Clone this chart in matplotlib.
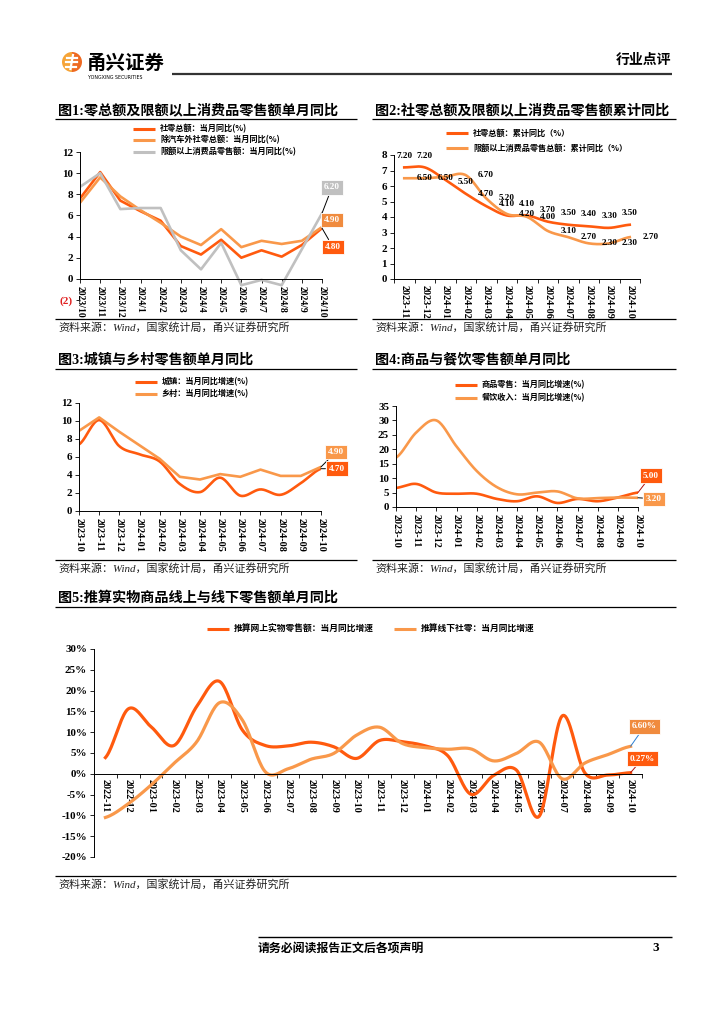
import matplotlib
matplotlib.use('Agg')
import matplotlib.pyplot as plt
import numpy as np
from matplotlib.lines import Line2D
from matplotlib.patches import Wedge

W, H = 724, 1024
NUM = ['Liberation Serif', 'Noto Sans CJK SC']
CJK = ['Noto Sans CJK SC', 'DejaVu Sans']
plt.rcParams['font.family'] = NUM

DARK = '#FF5A0E'
LIGHT = '#F9984A'
GRAY = '#C0C0C0'

# ---- data ----
months_a = ['2023/10', '2023/11', '2023/12', '2024/1', '2024/2', '2024/3', '2024/4',
            '2024/5', '2024/6', '2024/7', '2024/8', '2024/9', '2024/10']
retail_month = [7.6, 10.1, 7.4, 6.4, 5.5, 3.1, 2.3, 3.7, 2.0, 2.7, 2.1, 3.2, 4.8]
retail_ex_auto = [7.2, 9.6, 7.8, 6.5, 5.3, 4.0, 3.2, 4.7, 3.0, 3.6, 3.3, 3.6, 4.9]
above_quota = [8.7, 10.0, 6.6, 6.7, 6.7, 2.7, 0.9, 3.4, -0.6, -0.1, -0.6, 2.8, 6.2]

months_b = ['2023-11', '2023-12', '2024-01', '2024-02', '2024-03', '2024-04', '2024-05',
            '2024-06', '2024-07', '2024-08', '2024-09', '2024-10']
retail_cum = [7.2, 7.2, 6.4, 5.5, 4.7, 4.1, 4.1, 3.7, 3.5, 3.4, 3.3, 3.5]
above_cum = [6.5, 6.5, 6.6, 6.7, 5.2, 4.2, 4.0, 3.1, 2.7, 2.3, 2.3, 2.7]
cum_no_label = [2]

months_c = ['2023-10', '2023-11', '2023-12', '2024-01', '2024-02', '2024-03', '2024-04',
            '2024-05', '2024-06', '2024-07', '2024-08', '2024-09', '2024-10']
urban = [7.4, 10.1, 7.2, 6.3, 5.5, 3.0, 2.1, 3.7, 1.7, 2.4, 1.8, 3.1, 4.7]
rural = [8.9, 10.4, 8.8, 7.3, 5.8, 3.8, 3.5, 4.1, 3.8, 4.6, 3.9, 3.9, 4.9]

goods = [6.6, 8.0, 5.0, 4.6, 4.6, 2.8, 2.0, 3.7, 1.4, 2.8, 2.0, 3.3, 5.0]
catering = [17.1, 25.8, 30.0, 21.0, 12.5, 6.9, 4.4, 5.0, 5.4, 3.0, 3.1, 3.3, 3.2]

months_d = ['2022-11', '2022-12', '2023-01', '2023-02', '2023-03', '2023-04', '2023-05',
            '2023-06', '2023-07', '2023-08', '2023-09', '2023-10', '2023-11', '2023-12',
            '2024-01', '2024-02', '2024-03', '2024-04', '2024-05', '2024-06', '2024-07',
            '2024-08', '2024-09', '2024-10']
online = [3.9, 15.6, 11.3, 6.8, 16.2, 22.2, 10.5, 6.8, 6.7, 7.6, 6.5, 3.7, 8.0, 7.7,
          6.7, 4.3, -4.9, -0.4, 0.9, -10.2, 13.9, 0.2, -0.3, 0.27]
offline = [-10.5, -7.2, -2.7, 2.5, 7.7, 17.1, 12.9, 0.5, 1.2, 3.5, 4.9, 9.3, 11.2, 7.3,
           6.3, 5.9, 6.0, 3.1, 4.9, 7.6, -1.2, 2.6, 4.6, 6.6]

SOURCE = '资料来源：Wind，国家统计局，甬兴证券研究所'


def smooth(y, n=20):
    # catmull-rom, roughly what excel's smoothed line does
    y = np.asarray(y, float)
    p = np.concatenate([[y[0]], y, [y[-1]]])
    xs, ys = [], []
    t = np.linspace(0, 1, n, endpoint=False)
    for i in range(len(y) - 1):
        m0 = (p[i + 2] - p[i]) / 2
        m1 = (p[i + 3] - p[i + 1]) / 2
        h00 = 2 * t**3 - 3 * t**2 + 1
        h10 = t**3 - 2 * t**2 + t
        h01 = -2 * t**3 + 3 * t**2
        h11 = t**3 - t**2
        xs.append(i + t)
        ys.append(h00 * y[i] + h10 * m0 + h01 * y[i + 1] + h11 * m1)
    xs.append([len(y) - 1])
    ys.append([y[-1]])
    return np.concatenate(xs), np.concatenate(ys)


fig = plt.figure(figsize=(W / 100, H / 100), dpi=100)


def px_ax(l, t, r, b):
    return fig.add_axes([l / W, 1 - b / H, (r - l) / W, (b - t) / H])


def fline(x0, x1, y, color='black', lw=0.8):
    fig.add_artist(Line2D([x0 / W, x1 / W], [1 - y / H, 1 - y / H], color=color, lw=lw,
                          solid_capstyle='butt', transform=fig.transFigure))


def ftext(x, y, s, **kw):
    fig.text(x / W, 1 - y / H, s, **kw)


def legend_item(x, y, color, label, size=5.9):
    fline(x, x + 22, y, color=color, lw=2.2)
    ftext(x + 27, y, label, family=CJK, fontsize=size, fontweight='bold', va='center')


def panel_frame(x0, x1, ytitle, title, ysrc):
    ftext(x0 + 3, ytitle, title, family=NUM, fontsize=10.2, fontweight='bold', va='center')
    fline(x0, x1, ytitle + 9, lw=0.9)
    fline(x0, x1, ysrc - 8, lw=0.9)
    ftext(x0 + 3, ysrc, SOURCE, family=NUM, fontsize=7.9, style='italic', va='center',
          color='#222222')


def style_axes(ax, labels, on_ticks=True, xsize=7.3):
    for s in ['top', 'right']:
        ax.spines[s].set_visible(False)
    ax.spines['left'].set_linewidth(0.7)
    ax.spines['bottom'].set_linewidth(0.7)
    ax.spines['bottom'].set_position(('data', 0))
    n = len(labels)
    ax.set_xticks(range(n))
    ax.set_xticklabels(labels, rotation=-90, fontsize=xsize, fontweight='bold', va='top')
    if on_ticks:
        ax.tick_params(axis='x', length=3, width=0.6, pad=2, direction='out')
    else:
        ax.set_xticks(np.arange(-0.5, n, 1), minor=True)
        ax.tick_params(axis='x', which='major', length=0, pad=4)
        ax.tick_params(axis='x', which='minor', length=3, width=0.6, direction='out')
    ax.tick_params(axis='y', length=3, width=0.6, pad=2, labelsize=7.9, direction='out')
    for lb in ax.get_yticklabels():
        lb.set_fontweight('bold')
    ax.patch.set_alpha(0)


def tag(ax, x, y, text, fc, dx, dy, lc='black'):
    ax.annotate(text, xy=(x, y), xytext=(dx * 0.72, dy * 0.72), textcoords='offset points',
                ha='center', va='center', color='white', fontsize=6.6, fontweight='bold',
                bbox=dict(boxstyle='square,pad=0.35', fc=fc, ec='white', lw=0.6),
                arrowprops=dict(arrowstyle='-', color=lc, lw=0.7, shrinkA=0, shrinkB=0),
                annotation_clip=False, zorder=6)


# ---- header / footer ----
lax = px_ax(61, 50, 83, 74)
lax.set_xlim(-1.1, 1.1)
lax.set_ylim(-1.1, 1.1)
lax.set_aspect('equal')
lax.axis('off')
lax.add_patch(Wedge((0, 0), 1, 90, 270, fc='#F6A437', ec='none'))
lax.add_patch(Wedge((0, 0), 1, -90, 90, fc='#EE6A22', ec='none'))
lax.plot([-0.55, 0.5], [0.45, 0.45], color='white', lw=1.6)
lax.plot([-0.6, 0.45], [0.0, 0.0], color='white', lw=1.6)
lax.plot([-0.65, 0.4], [-0.45, -0.45], color='white', lw=1.6)
lax.plot([0.1, -0.15], [0.7, -0.7], color='white', lw=1.6)
ftext(87, 63, '甬兴证券', family=CJK, fontsize=14, fontweight='bold', va='center')
ftext(88, 77.5, 'YONGXING SECURITIES', family=['DejaVu Sans'], fontsize=3.4, va='center')
fline(172, 672, 74, color='#333333', lw=1.6)
ftext(671, 60, '行业点评', family=CJK, fontsize=10, fontweight='bold', va='center', ha='right')

fline(258, 672, 937, lw=1.0)
ftext(258, 948, '请务必阅读报告正文后各项声明', family=CJK, fontsize=8.6, fontweight='bold', va='center')
ftext(652, 948, '3', fontsize=9.5, fontweight='bold', va='center')

# ---- chart 1 ----
panel_frame(55, 357, 110, '图1:零总额及限额以上消费品零售额单月同比', 327)
legend_item(133, 129, DARK, '社零总额：当月同比(%)')
legend_item(133, 140, LIGHT, '除汽车外社零总额：当月同比(%)')
legend_item(133, 152, GRAY, '限额以上消费品零售额：当月同比(%)')
ax1 = px_ax(80, 152, 322, 300)
x = np.arange(len(months_a))
ax1.plot(x, retail_month, color=DARK, lw=1.9)
ax1.plot(x, retail_ex_auto, color=LIGHT, lw=1.9)
ax1.plot(x, above_quota, color=GRAY, lw=1.9)
ax1.set_xlim(0, 12)
ax1.set_ylim(-2, 12)
ax1.set_yticks(range(-2, 13, 2))
ax1.set_yticklabels(['(2)'] + [str(v) for v in range(0, 13, 2)])
style_axes(ax1, months_a, xsize=7.0)
ax1.get_yticklabels()[0].set_color('#E02020')
ax1.spines['left'].set_bounds(0, 12)
tag(ax1, 12, above_quota[-1], f'{above_quota[-1]:.2f}', GRAY, 10, 26)
tag(ax1, 12, retail_ex_auto[-1], f'{retail_ex_auto[-1]:.2f}', '#F08B3E', 10, 7)
tag(ax1, 12, retail_month[-1], f'{retail_month[-1]:.2f}', DARK, 11, -19)

# ---- chart 2 ----
panel_frame(372, 676, 110, '图2:社零总额及限额以上消费品零售额累计同比', 327)
legend_item(446, 133, DARK, '社零总额：累计同比（%）')
legend_item(446, 148, LIGHT, '限额以上消费品零售总额：累计同比（%）')
ax2 = px_ax(394, 155, 640, 279)
sx, sy = smooth(retail_cum)
ax2.plot(sx, sy, color=DARK, lw=1.9)
sx, sy = smooth(above_cum)
ax2.plot(sx, sy, color=LIGHT, lw=1.9)
ax2.set_xlim(-0.5, 11.5)
ax2.set_ylim(0, 8)
ax2.set_yticks(range(0, 9))
style_axes(ax2, months_b, on_ticks=False)
for i, v in enumerate(retail_cum):
    if i in cum_no_label:
        continue
    ax2.annotate(f'{v:.2f}', (i, v), xytext=(0, 8.5), textcoords='offset points', ha='center',
                 va='center', fontsize=6.6, fontweight='bold', annotation_clip=False)
for i, v in enumerate(above_cum):
    if i in cum_no_label:
        continue
    ax2.annotate(f'{v:.2f}', (i + 1, v), ha='center', va='center', fontsize=6.6,
                 fontweight='bold', annotation_clip=False)

# ---- chart 3 ----
panel_frame(55, 357, 360, '图3:城镇与乡村零售额单月同比', 568)
legend_item(135, 382, DARK, '城镇：当月同比增速(%)')
legend_item(135, 394, LIGHT, '乡村：当月同比增速(%)')
ax3 = px_ax(79, 403, 321, 511)
x = np.arange(len(months_c))
sx, sy = smooth(urban)
ax3.plot(sx, sy, color=DARK, lw=1.9)
ax3.plot(x, rural, color=LIGHT, lw=1.9)
ax3.set_xlim(0, 12)
ax3.set_ylim(0, 12)
ax3.set_yticks(range(0, 13, 2))
style_axes(ax3, months_c)
tag(ax3, 12, rural[-1], f'{rural[-1]:.2f}', LIGHT, 15, 15)
tag(ax3, 12, urban[-1], f'{urban[-1]:.2f}', DARK, 16, 0)

# ---- chart 4 ----
panel_frame(372, 676, 360, '图4:商品与餐饮零售额单月同比', 568)
legend_item(455, 385, DARK, '商品零售：当月同比增速(%)')
legend_item(455, 398, LIGHT, '餐饮收入：当月同比增速(%)')
ax4 = px_ax(396, 406, 638, 507)
sx, sy = smooth(goods)
ax4.plot(sx, sy, color=DARK, lw=1.9)
sx, sy = smooth(catering)
ax4.plot(sx, sy, color=LIGHT, lw=1.9)
ax4.set_xlim(0, 12)
ax4.set_ylim(0, 35)
ax4.set_yticks(range(0, 36, 5))
style_axes(ax4, months_c)
tag(ax4, 12, goods[-1], f'{goods[-1]:.2f}', DARK, 13, 17, lc='#B01010')
tag(ax4, 12, catering[-1], f'{catering[-1]:.2f}', LIGHT, 16, -1)

# ---- chart 5 ----
panel_frame(55, 676, 598, '图5:推算实物商品线上与线下零售额单月同比', 884)
legend_item(207, 629, DARK, '推算网上实物零售额：当月同比增速', size=6.3)
legend_item(394, 629, LIGHT, '推算线下社零：当月同比增速', size=6.3)
ax5 = px_ax(94, 649, 642, 857)
sx, sy = smooth(online)
ax5.plot(sx, sy, color=DARK, lw=2.3)
sx, sy = smooth(offline)
ax5.plot(sx, sy, color=LIGHT, lw=2.3)
ax5.set_xlim(-0.5, 23.5)
ax5.set_ylim(-20, 30)
ax5.set_yticks(range(-20, 31, 5))
ax5.set_yticklabels([f'{v}%' for v in range(-20, 31, 5)])
style_axes(ax5, months_d, on_ticks=False)
tag(ax5, 23, offline[-1], f'{offline[-1]:.2f}%', '#F08B3E', 14, 20, lc='#2A7FD4')
tag(ax5, 23, online[-1], f'{online[-1]:.2f}%', DARK, 12, 14, lc='#B01010')

fig.savefig('out.png', dpi=100)
